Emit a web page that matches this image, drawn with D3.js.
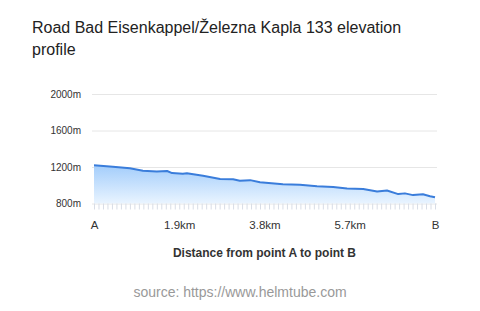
<!DOCTYPE html>
<html lang="en">
<head>
    <meta charset="UTF-8">
    <title>Elevation profile</title>
    <style>
        body { margin: 0; padding: 0; background: white; }
        text { font-family: "Liberation Sans", Arial, sans-serif; }
    </style>
</head>
<body>
    <svg id="chart" width="480" height="311"></svg>
    <script src="https://d3js.org/d3.v7.min.js"></script>
    <script>
        // distance along the road (km) and elevation (m)
        const distances = [0, 0.42, 0.80, 1.09, 1.40, 1.63, 1.74, 1.98, 2.07, 2.43, 2.81, 3.10, 3.25, 3.48,
            3.70, 4.21, 4.59, 4.97, 5.33, 5.64, 6.00, 6.31, 6.53, 6.78, 6.93, 7.11, 7.33, 7.49, 7.60];
        const elevations = [1219, 1204, 1186, 1160, 1150, 1156, 1133, 1127, 1132, 1105, 1069, 1065, 1049, 1056,
            1032, 1010, 1006, 989, 981, 964, 959, 931, 943, 903, 911, 892, 902, 880, 868];
        const yTicks = [800, 1200, 1600, 2000];
        const xTickValues = [0, 1.9, 3.8, 5.7, 7.6];
        const xTickLabels = ["A", "1.9km", "3.8km", "5.7km", "B"];

        const LINE_COLOR = "#3a7ddb";
        const GRID_COLOR = "#e6e6e6";

        const svg = d3.select("#chart");
        const plotLeft = 94, plotRight = 435, plotTop = 94, plotBottom = 203.5;

        const x = d3.scaleLinear().domain([0, 7.6]).range([plotLeft, plotRight]);
        const y = d3.scaleLinear().domain([800, 2000]).range([plotBottom, plotTop]);

        const data = distances.map((d, i) => ({ d: d, e: elevations[i] }));

        // title
        svg.append("text")
            .attr("x", 32).attr("y", 33)
            .attr("font-size", "16px").attr("fill", "#222")
            .text("Road Bad Eisenkappel/Železna Kapla 133 elevation");
        svg.append("text")
            .attr("x", 32).attr("y", 55)
            .attr("font-size", "16px").attr("fill", "#222")
            .text("profile");

        // grid lines + y labels
        svg.append("g")
            .attr("transform", `translate(${plotLeft - 2},0)`)
            .call(d3.axisLeft(y).tickValues(yTicks).tickSize(-(plotRight - plotLeft + 4)).tickFormat(d => d + "m"))
            .call(g => g.select(".domain").remove())
            .call(g => g.selectAll(".tick line").attr("stroke", GRID_COLOR))
            .call(g => g.selectAll(".tick text")
                .attr("x", -11).attr("fill", "#333").attr("font-size", "10px")
                .attr("font-family", "Liberation Sans, Arial, sans-serif"));

        // gradient fill
        const grad = svg.append("defs").append("linearGradient")
            .attr("id", "fillGrad").attr("x1", 0).attr("y1", 0).attr("x2", 0).attr("y2", 1);
        grad.append("stop").attr("offset", "0%").attr("stop-color", "#a3cdfb");
        grad.append("stop").attr("offset", "100%").attr("stop-color", "#e9f4ff");

        const area = d3.area().x(d => x(d.d)).y0(plotBottom).y1(d => y(d.e));
        const line = d3.line().x(d => x(d.d)).y(d => y(d.e));

        svg.append("path").datum(data)
            .attr("d", area).attr("fill", "url(#fillGrad)");
        svg.append("path").datum(data)
            .attr("d", line).attr("fill", "none")
            .attr("stroke", LINE_COLOR).attr("stroke-width", 2)
            .attr("stroke-linejoin", "round");

        // minor ticks every 0.1km
        svg.append("g")
            .attr("transform", `translate(0,${plotBottom})`)
            .call(d3.axisBottom(x).tickValues(d3.range(0, 77).map(i => i / 10)).tickSize(6).tickFormat(""))
            .call(g => g.select(".domain").remove())
            .call(g => g.selectAll(".tick line").attr("stroke", "#d8dde6"));

        // x labels
        svg.append("g")
            .attr("transform", `translate(0,${plotBottom})`)
            .call(d3.axisBottom(x).tickValues(xTickValues).tickSize(0).tickPadding(17)
                .tickFormat((d, i) => xTickLabels[i]))
            .call(g => g.select(".domain").remove())
            .call(g => g.selectAll(".tick text")
                .attr("fill", "#333").attr("font-size", "11.5px")
                .attr("font-family", "Liberation Sans, Arial, sans-serif"));

        // axis title
        svg.append("text")
            .attr("x", (plotLeft + plotRight) / 2).attr("y", 257)
            .attr("text-anchor", "middle")
            .attr("font-size", "12px").attr("font-weight", "bold").attr("fill", "#333")
            .text("Distance from point A to point B");

        // source
        svg.append("text")
            .attr("x", 240).attr("y", 297)
            .attr("text-anchor", "middle")
            .attr("font-size", "14px").attr("fill", "#999")
            .text("source: https://www.helmtube.com");
    </script>
</body>
</html>
